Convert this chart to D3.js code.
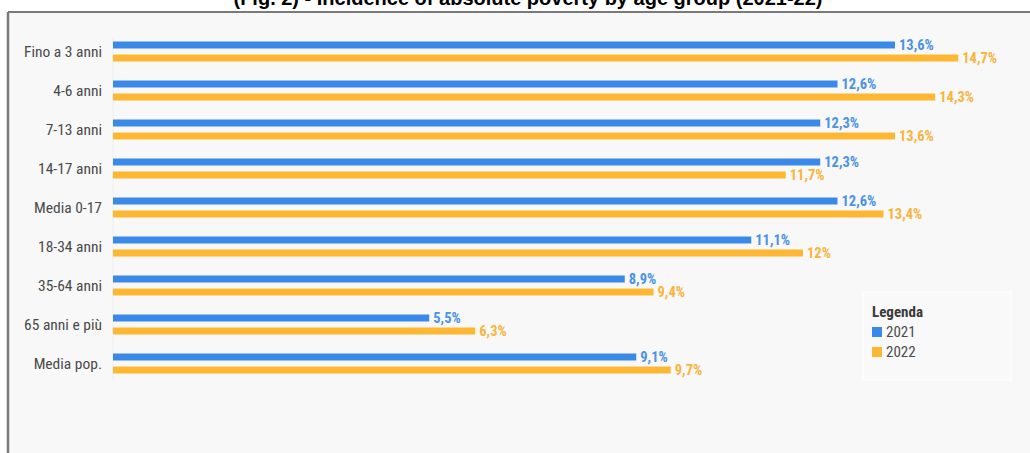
<!DOCTYPE html>
<html>
<head>
<meta charset="utf-8">
<script src="https://cdn.jsdelivr.net/npm/d3@7"></script>
<style>
  html, body { margin: 0; padding: 0; background: #ffffff; }
  svg { display: block; }
</style>
</head>
<body>
<script>
const title = "(Fig. 2) - Incidence of absolute poverty by age group (2021-22)";
const categories = ["Fino a 3 anni", "4-6 anni", "7-13 anni", "14-17 anni", "Media 0-17", "18-34 anni", "35-64 anni", "65 anni e più", "Media pop."];
const seriesNames = ["2021", "2022"];
const values2021 = [13.6, 12.6, 12.3, 12.3, 12.6, 11.1, 8.9, 5.5, 9.1];
const values2022 = [14.7, 14.3, 13.6, 11.7, 13.4, 12, 9.4, 6.3, 9.7];
const seriesColors = ["#3a89e9", "#fdb733"];
const labelColors = ["#4b93e6", "#f9b43c"];
const legendTitle = "Legenda";

const W = 1030, H = 453;
const FONT = "'Roboto Condensed', 'Liberation Sans Narrow', 'DejaVu Sans Condensed', Roboto, sans-serif";
const svg = d3.select("body").append("svg").attr("width", W).attr("height", H);

// background panel with frame
svg.append("rect").attr("x", 9).attr("y", 12).attr("width", W - 9).attr("height", H - 12).attr("fill", "#f8f8f8");
svg.append("line").attr("x1", 8).attr("x2", W).attr("y1", 12).attr("y2", 12).attr("stroke", "#7a7a7a").attr("stroke-width", 2);
svg.append("line").attr("x1", 8).attr("x2", 8).attr("y1", 12).attr("y2", H).attr("stroke", "#7a7a7a").attr("stroke-width", 2.5);

// title (clipped at top, as in the reference)
svg.append("text").attr("x", 528).attr("y", 5).attr("text-anchor", "middle")
  .attr("font-family", "Arial, 'Liberation Sans', sans-serif").attr("font-weight", "bold")
  .attr("font-size", 20).attr("fill", "#000").text(title);

const x = d3.scaleLinear().domain([0, 15]).range([113, 113 + 57.5 * 15]);
const y = d3.scaleBand().domain(categories).range([32, 32 + 39 * categories.length]).padding(0);
const sub = d3.scaleBand().domain(seriesNames).range([-10, 10]).paddingInner(0.4615).paddingOuter(0);

// faint axis line
svg.append("line").attr("x1", x(0)).attr("x2", x(0)).attr("y1", 38).attr("y2", 380).attr("stroke", "#eeeeee").attr("stroke-width", 1);

// category labels via axis
const yAxis = d3.axisLeft(y).tickSize(0).tickPadding(0);
const gy = svg.append("g").attr("transform", `translate(102,0)`).call(yAxis);
gy.select(".domain").remove();
gy.selectAll("text")
  .attr("font-family", FONT)
  .attr("font-size", 15.5).attr("fill", "#4a4a4a").attr("dy", "0.35em");

const seriesData = [values2021, values2022];
const fmt = v => String(v).replace(".", ",") + "%";

seriesData.forEach((vals, si) => {
  const g = svg.append("g");
  const rows = categories.map((c, i) => ({ c, v: vals[i] }));
  g.selectAll("rect").data(rows).join("rect")
    .attr("x", x(0))
    .attr("y", d => y(d.c) + y.bandwidth() / 2 + sub(seriesNames[si]))
    .attr("width", d => x(d.v) - x(0))
    .attr("height", sub.bandwidth())
    .attr("fill", seriesColors[si]);
  g.selectAll("text").data(rows).join("text")
    .attr("x", d => x(d.v) + 4)
    .attr("y", d => y(d.c) + y.bandwidth() / 2 + sub(seriesNames[si]) + sub.bandwidth() / 2)
    .attr("dy", "0.35em")
    .attr("font-family", FONT)
    .attr("font-weight", "bold").attr("font-size", 14.5)
    .attr("fill", labelColors[si])
    .text(d => fmt(d.v));
});

// legend
const lg = svg.append("g");
lg.append("rect").attr("x", 863).attr("y", 292).attr("width", 148).attr("height", 88)
  .attr("fill", "#f9f9f9").attr("stroke", "#fdfdfd").attr("stroke-width", 1.5);
lg.append("text").attr("x", 872).attr("y", 317)
  .attr("font-family", FONT)
  .attr("font-weight", "bold").attr("font-size", 15).attr("fill", "#3a3a3a").text(legendTitle);
seriesNames.forEach((s, i) => {
  lg.append("rect").attr("x", 872).attr("y", 327 + i * 20).attr("width", 10).attr("height", 10).attr("fill", seriesColors[i]);
  lg.append("text").attr("x", 886).attr("y", 332 + i * 20).attr("dy", "0.35em")
    .attr("font-family", FONT)
    .attr("font-size", 15).attr("fill", "#4a4a4a").text(s);
});
</script>
</body>
</html>
